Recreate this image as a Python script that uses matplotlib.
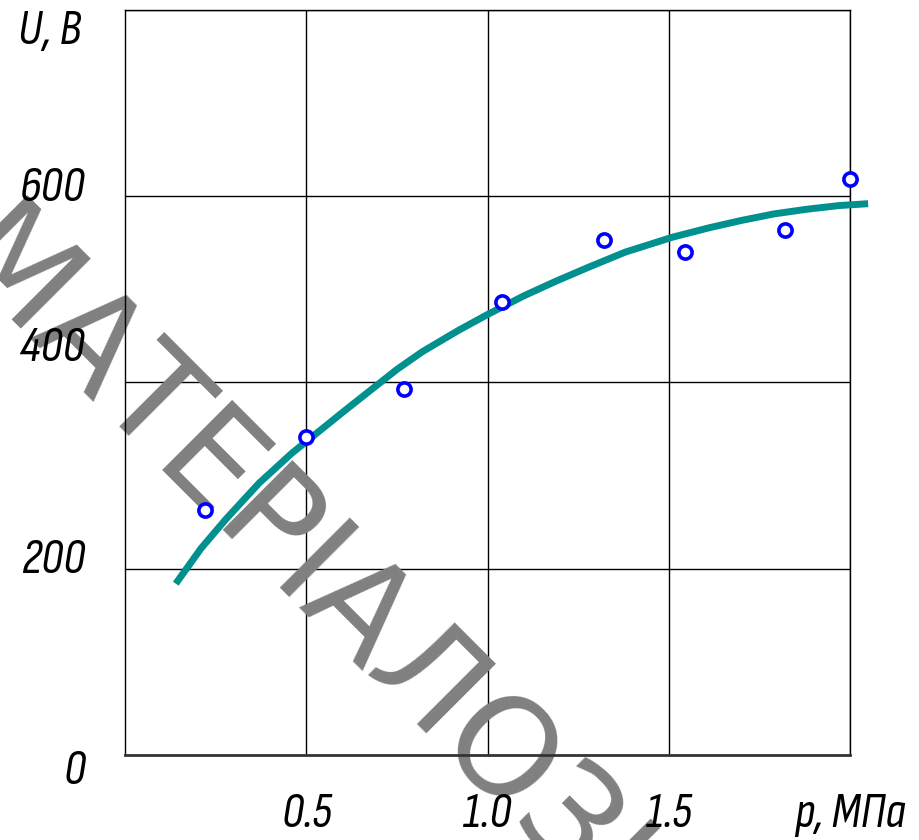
import matplotlib
matplotlib.use("Agg")
import matplotlib.pyplot as plt

# measured points  U(p)
p_points = [0.22, 0.50, 0.77, 1.04, 1.32, 1.545, 1.82, 2.00]
u_points = [263, 342, 393, 486, 553, 540, 564, 619]

# approximating curve
p_curve = [0.14, 0.21, 0.28, 0.37, 0.46, 0.61, 0.75, 0.82, 0.92, 1.00, 1.10,
           1.19, 1.28, 1.38, 1.51, 1.61, 1.70, 1.79, 1.88, 1.97, 2.05]
u_curve = [184, 222, 254, 292, 324, 371, 414, 433, 456, 473, 493,
           509, 524, 540, 556, 566, 574, 581, 586, 590, 592]

x_ticks = [0.5, 1.0, 1.5]
x_tick_labels = ["0.5", "1.0", "1.5"]
y_ticks = [0, 200, 400, 600]
y_tick_labels = ["0", "200", "400", "600"]

x_label = "p, МПа"
y_label = "U, В"
watermark = "МАТЕРІАЛОЗНАВСТВО"

FONT = ["Sofia Sans Condensed", "Archivo Narrow", "DejaVu Sans"]
label_kw = dict(family=FONT, style="italic", fontweight="light", fontsize=36, color="black")

fig = plt.figure(figsize=(9.2, 8.4), dpi=100)
ax = fig.add_axes([0.1359, 0.1012, 0.788, 0.8869])
ax.set_xlim(0, 2.0)
ax.set_ylim(0, 800)
ax.set_xticks([0.5, 1.0, 1.5, 2.0])
ax.set_yticks([200, 400, 600, 800])
ax.tick_params(length=0, labelbottom=False, labelleft=False)
ax.grid(True, color="black", linewidth=1.0, zorder=0)
ax.set_axisbelow(True)
for side, sp in ax.spines.items():
    sp.set_linewidth(1.0)
ax.spines["bottom"].set_linewidth(2.0)
ax.spines["bottom"].set_color("#333333")

# curve + points
ax.plot(p_curve, u_curve, color="#00918E", linewidth=5, solid_capstyle="butt",
        solid_joinstyle="round", clip_on=False, zorder=3)
ax.plot(p_points, u_points, linestyle="none", marker="o", markersize=9.5,
        markerfacecolor="white", markeredgecolor="#0000FF", markeredgewidth=2.6,
        clip_on=False, zorder=4)

# tick labels, drawn as text like on the drawing
for x, lab in zip(x_ticks, x_tick_labels):
    ax.text(x, -64, lab, ha="center", va="center", **label_kw)
ax.text(2.0, -64, x_label, ha="center", va="center", **label_kw)

y_pos = {"0": -18, "200": 209, "400": 437, "600": 608}
for y, lab in zip(y_ticks, y_tick_labels):
    ax.text(-0.11, y_pos[lab], lab, ha="right", va="center", **label_kw)
ax.text(-0.12, 777, y_label, ha="right", va="center", **label_kw)

# diagonal watermark, under the curve but over the grid
ax.text(-0.033, 0.717, watermark, transform=fig.transFigure, rotation=-45,
        rotation_mode="anchor", ha="left", va="center", fontsize=97,
        color="#808080", family="DejaVu Sans", clip_on=False, zorder=2)

fig.savefig("out.png", dpi=100)
